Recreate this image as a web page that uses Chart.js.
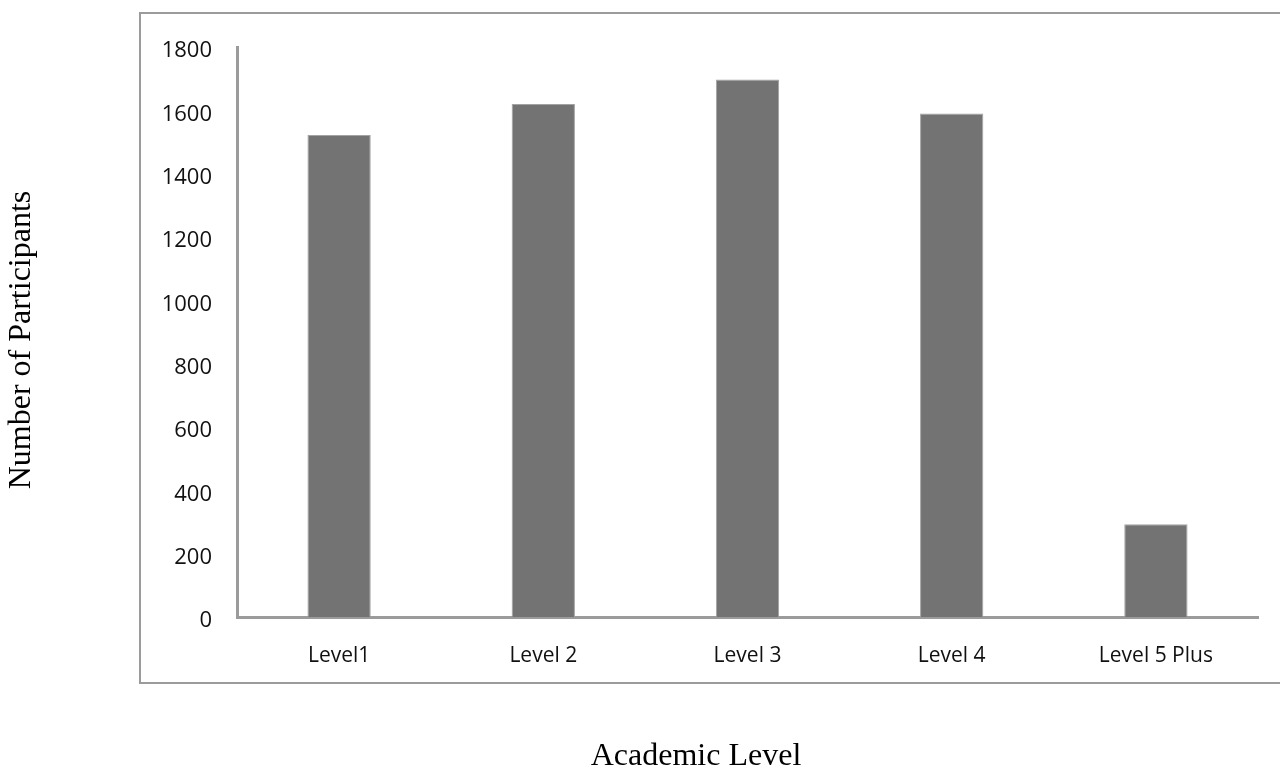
<!DOCTYPE html>
<html>
<head>
<meta charset="utf-8">
<script src="https://cdn.jsdelivr.net/npm/chart.js@4/dist/chart.umd.min.js"></script>
<style>
  html, body { margin: 0; padding: 0; background: #ffffff; }
  #wrap { width: 1280px; height: 772px; }
</style>
</head>
<body>
<div id="wrap"><canvas id="c" width="1280" height="772"></canvas></div>
<script>
const categories = ["Level1", "Level 2", "Level 3", "Level 4", "Level 5 Plus"];
const participants = [1522, 1620, 1697, 1590, 293];
const yTicks = [0, 200, 400, 600, 800, 1000, 1200, 1400, 1600, 1800];
const xTitle = "Academic Level";
const yTitle = "Number of Participants";

const framePlugin = {
  id: 'frame',
  beforeDraw(chart) {
    const ctx = chart.ctx;
    ctx.save();
    ctx.fillStyle = '#ffffff';
    ctx.fillRect(0, 0, chart.width, chart.height);
    ctx.strokeStyle = '#9b9b9b';
    ctx.lineWidth = 2;
    ctx.beginPath();
    ctx.moveTo(1285, 13);
    ctx.lineTo(140, 13);
    ctx.lineTo(140, 683);
    ctx.lineTo(1285, 683);
    ctx.stroke();
    ctx.restore();
  },
  afterDraw(chart) {
    const ctx = chart.ctx;
    ctx.save();
    ctx.fillStyle = '#000000';
    ctx.font = '32px "Liberation Serif", "Times New Roman", serif';
    ctx.textAlign = 'center';
    ctx.textBaseline = 'middle';
    ctx.fillText(xTitle, 696, 757);
    ctx.translate(22, 340);
    ctx.rotate(-Math.PI / 2);
    ctx.fillText(yTitle, 0, 0);
    ctx.restore();
  }
};

new Chart(document.getElementById('c'), {
  type: 'bar',
  data: {
    labels: categories,
    datasets: [{
      data: participants,
      backgroundColor: '#737373',
      borderColor: '#a3a3a3',
      borderWidth: 1,
      barPercentage: 0.62,
      categoryPercentage: 0.5
    }]
  },
  options: {
    responsive: false,
    animation: false,
    layout: { padding: { top: 47, right: 22, left: 0, bottom: 0 } },
    plugins: { legend: { display: false }, tooltip: { enabled: false } },
    scales: {
      x: {
        grid: { display: false, drawTicks: false },
        border: { display: true, color: '#9b9b9b', width: 3 },
        ticks: { color: '#111111', font: { family: 'Open Sans', size: 21 }, padding: 26, maxRotation: 0 },
        afterFit(scale) { scale.height = 155; }
      },
      y: {
        min: 0,
        max: 1800,
        afterBuildTicks(scale) { scale.ticks = yTicks.map(v => ({ value: v })); },
        grid: { display: false, drawTicks: false },
        border: { display: true, color: '#9b9b9b', width: 3 },
        ticks: { color: '#111111', font: { family: 'Open Sans', size: 22 }, padding: 25, labelOffset: 4,
                 callback: (v) => String(v) },
        afterFit(scale) { scale.width = 237; }
      }
    }
  },
  plugins: [framePlugin]
});
</script>
</body>
</html>
